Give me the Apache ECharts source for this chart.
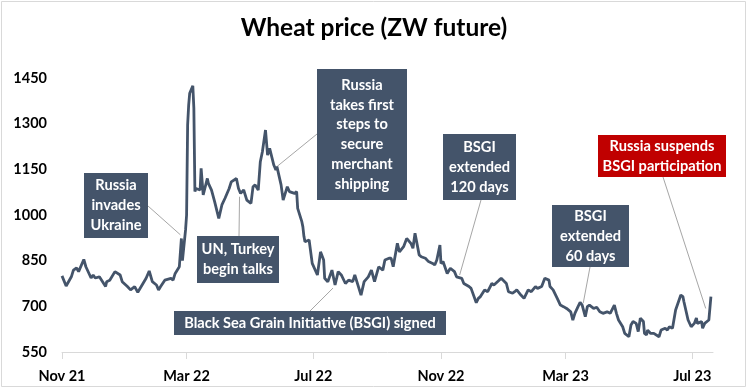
<!DOCTYPE html>
<html><head><meta charset="utf-8">
<script src="https://cdn.jsdelivr.net/npm/echarts@6/dist/echarts.min.js"></script>
<style>html,body{margin:0;padding:0;background:#fff}#c{width:748px;height:390px}</style>
</head><body><div id="c"></div>
<script>
const titleText = 'Wheat price (ZW future)';
const yTicks = [550, 700, 850, 1000, 1150, 1300, 1450];
const xTickDates = ['2021-11-01','2022-03-01','2022-07-01','2022-11-01','2023-03-01','2023-07-01'];
const dates = [
'2021-11-01','2021-11-05','2021-11-10','2021-11-12','2021-11-15','2021-11-17','2021-11-22','2021-11-24','2021-11-29',
'2021-12-01','2021-12-03','2021-12-07','2021-12-13','2021-12-14','2021-12-17','2021-12-22','2021-12-27','2021-12-29',
'2022-01-03','2022-01-06','2022-01-10','2022-01-13','2022-01-18','2022-01-21','2022-01-24','2022-01-27','2022-01-31',
'2022-02-02','2022-02-04','2022-02-08','2022-02-14','2022-02-16','2022-02-18','2022-02-22','2022-02-24','2022-02-25','2022-02-28',
'2022-03-01','2022-03-02','2022-03-03','2022-03-04','2022-03-07','2022-03-08','2022-03-09','2022-03-10','2022-03-11','2022-03-14','2022-03-15','2022-03-17','2022-03-21','2022-03-22','2022-03-25','2022-03-28',
'2022-04-01','2022-04-04','2022-04-07','2022-04-11','2022-04-13','2022-04-18','2022-04-20','2022-04-22','2022-04-25','2022-04-28',
'2022-05-02','2022-05-04','2022-05-06','2022-05-09','2022-05-11','2022-05-13','2022-05-16','2022-05-18','2022-05-20','2022-05-24','2022-05-26','2022-05-27','2022-05-31',
'2022-06-02','2022-06-06','2022-06-08','2022-06-13','2022-06-15','2022-06-16','2022-06-17','2022-06-20','2022-06-21','2022-06-22','2022-06-23','2022-06-27','2022-06-30',
'2022-07-05','2022-07-06','2022-07-08','2022-07-11','2022-07-12','2022-07-15','2022-07-19','2022-07-22','2022-07-25','2022-07-28',
'2022-08-01','2022-08-04','2022-08-08','2022-08-10','2022-08-12','2022-08-16','2022-08-19','2022-08-23','2022-08-26','2022-08-29',
'2022-09-02','2022-09-06','2022-09-08','2022-09-12','2022-09-14','2022-09-16','2022-09-20','2022-09-22','2022-09-26','2022-09-29',
'2022-10-03','2022-10-05','2022-10-07','2022-10-11','2022-10-13','2022-10-17','2022-10-20','2022-10-24','2022-10-26','2022-10-28','2022-10-31',
'2022-11-01','2022-11-03','2022-11-07','2022-11-10','2022-11-14','2022-11-16','2022-11-21','2022-11-23','2022-11-28','2022-11-30',
'2022-12-05','2022-12-07','2022-12-09','2022-12-13','2022-12-16','2022-12-20','2022-12-22','2022-12-27','2022-12-29',
'2023-01-03','2023-01-05','2023-01-09','2023-01-11','2023-01-13','2023-01-17','2023-01-20','2023-01-24','2023-01-27','2023-01-31',
'2023-02-02','2023-02-06','2023-02-09','2023-02-13','2023-02-14','2023-02-17','2023-02-21','2023-02-24','2023-02-27',
'2023-03-02','2023-03-06','2023-03-08','2023-03-10','2023-03-13','2023-03-15','2023-03-17','2023-03-20','2023-03-22','2023-03-24','2023-03-28','2023-03-31',
'2023-04-03','2023-04-06','2023-04-10','2023-04-13','2023-04-17','2023-04-19','2023-04-21','2023-04-25','2023-04-27',
'2023-05-01','2023-05-03','2023-05-05','2023-05-08','2023-05-10','2023-05-12','2023-05-15','2023-05-16','2023-05-18','2023-05-19','2023-05-22','2023-05-25','2023-05-30',
'2023-06-01','2023-06-05','2023-06-07','2023-06-09','2023-06-12','2023-06-15','2023-06-16','2023-06-20','2023-06-22','2023-06-23','2023-06-27','2023-06-30',
'2023-07-03','2023-07-05','2023-07-06','2023-07-10','2023-07-11','2023-07-13','2023-07-17','2023-07-19'
];
const prices = [
800,767,797,819,826,814,854,830,793,
803,793,797,765,781,786,814,803,781,
765,754,765,746,775,792,816,781,770,
754,765,786,792,786,808,830,923,850,951,
1000,1296,1361,1400,1424,1351,1077,1087,1090,1082,1153,1066,1120,1104,1082,1044,
989,1033,1055,1087,1109,1120,1087,1071,1082,1049,
1038,1093,1099,1082,1175,1208,1279,1197,1219,1164,1148,1159,1099,
1049,1093,1077,1071,1077,1022,1016,978,961,930,912,918,841,
803,797,879,852,792,781,819,770,814,803,
775,786,781,803,781,737,781,797,819,781,
830,819,852,858,858,830,907,879,896,923,
907,891,940,869,863,858,847,841,836,852,901,
841,847,808,825,814,797,792,775,765,759,
712,726,732,754,748,775,770,786,792,
775,748,743,748,754,737,726,754,748,765,
759,765,792,786,765,754,726,704,699,
693,682,655,677,699,713,704,666,699,704,693,697,
682,677,682,677,704,677,655,633,611,
600,639,650,644,617,661,650,611,606,622,611,611,600,
622,628,622,633,628,688,690,737,732,715,655,633,
644,662,644,650,628,644,655,732
];
const noteTexts = [
  'Russia\ninvades\nUkraine',
  'UN, Turkey\nbegin talks',
  'Russia\ntakes first\nsteps to\nsecure\nmerchant\nshipping',
  'Black Sea Grain Initiative (BSGI) signed',
  'BSGI\nextended\n120 days',
  'BSGI\nextended\n60 days',
  'Russia suspends\nBSGI participation'
];
const noteDates = ['2022-02-23','2022-04-21','2022-05-27','2022-07-20','2022-11-19','2023-03-18','2023-07-14'];
const noteValues = [935, 1060, 1159, 760, 803, 710, 693];

// layout (pixels) for the annotation boxes and connector start points
const noteBoxes = [
  {x:84, y:173, w:64, h:65, sx:148, sy:206, red:false},
  {x:197, y:236, w:82, h:47, sx:239, sy:236, red:false},
  {x:317, y:69, w:90, h:131, sx:317, sy:134, red:false},
  {x:174, y:311, w:272, h:24, sx:310, sy:311, red:false},
  {x:443, y:134, w:73, h:66, sx:481, sy:200, red:false},
  {x:552, y:205, w:77, h:62, sx:590, sy:267, red:false},
  {x:598, y:135, w:128, h:42, sx:663, sy:177, red:true}
];

const FONT = 'Lato';
const MONTHS = ['Jan','Feb','Mar','Apr','May','Jun','Jul','Aug','Sep','Oct','Nov','Dec'];
function ts(s){ const p = s.split('-').map(Number); return new Date(p[0], p[1]-1, p[2]).getTime(); }
const xTickTs = xTickDates.map(ts);

const chart = echarts.init(document.getElementById('c'), null, {renderer:'canvas'});
chart.setOption({
  animation:false,
  backgroundColor:'#fff',
  title:{text:titleText, left:'center', top:11, textStyle:{fontFamily:FONT, fontWeight:'bold', fontSize:24.5, color:'#000'}},
  grid:{left:62, right:35, top:78, bottom:38},
  xAxis:{
    type:'value', min:ts('2021-11-01'), max:ts('2023-07-21'), scale:true,
    axisLine:{show:true, lineStyle:{color:'#d9d9d9', width:1}},
    axisTick:{show:true, length:7, lineStyle:{color:'#d9d9d9'}, customValues:xTickTs},
    axisLabel:{customValues:xTickTs, margin:17, fontFamily:FONT, fontWeight:'bold', fontSize:14.5, color:'#000',
      formatter:function(v){ const d=new Date(v); return MONTHS[d.getMonth()]+' '+String(d.getFullYear()).slice(2); }},
    splitLine:{show:false}
  },
  yAxis:{
    type:'value', min:yTicks[0], max:yTicks[yTicks.length-1], interval:150,
    axisLine:{show:false}, axisTick:{show:false}, splitLine:{show:false},
    axisLabel:{margin:15, fontFamily:FONT, fontWeight:'bold', fontSize:14.5, color:'#000', formatter:function(v){return String(v);}}
  },
  series:[{
    type:'line', data:dates.map((d,i)=>[ts(d), prices[i]]), showSymbol:false, symbol:'none',
    lineStyle:{color:'#44546A', width:2.8}, z:5
  }]
});

const g = [{type:'rect', shape:{x:1.5,y:1.5,width:744,height:385}, style:{fill:null, stroke:'#d9d9d9', lineWidth:1}, z:1}];
noteTexts.forEach((t,i)=>{
  const b = noteBoxes[i];
  const p = chart.convertToPixel({gridIndex:0}, [ts(noteDates[i]), noteValues[i]]);
  g.push({type:'line', shape:{x1:b.sx, y1:b.sy, x2:p[0], y2:p[1]}, style:{stroke:'#a6a6a6', lineWidth:1}, z:3});
  g.push({type:'rect', shape:{x:b.x, y:b.y, width:b.w, height:b.h}, style:{fill:b.red?'#C00000':'#44546A'}, z:20});
  g.push({type:'text', x:b.x+b.w/2, y:b.y+b.h/2, style:{text:t, fill:'#fff', font:'bold 14.6px '+FONT, textAlign:'center', textVerticalAlign:'middle', lineHeight:19.8}, z:21});
});
chart.setOption({graphic:g});
</script></body></html>
